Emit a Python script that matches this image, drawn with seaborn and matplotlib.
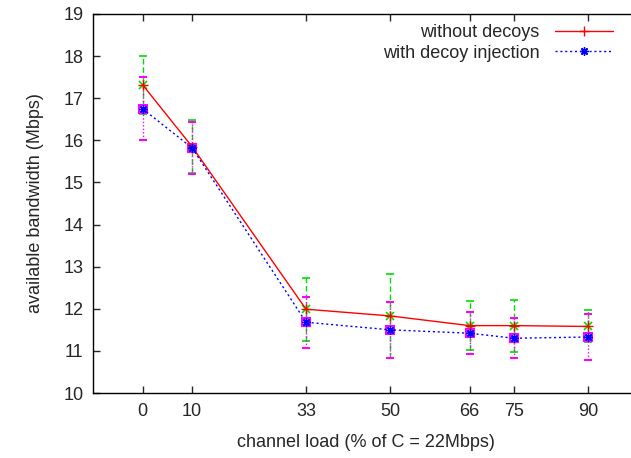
import numpy as np
import matplotlib
matplotlib.use("Agg")
import matplotlib.pyplot as plt
import seaborn as sns
import pandas as pd

# channel load in % of C
loads = [0, 10, 33, 50, 66, 75, 90]

# available bandwidth (Mbps)
without_decoys = [17.32, 15.85, 11.99, 11.83, 11.60, 11.60, 11.58]
without_err = [0.69, 0.63, 0.75, 1.00, 0.58, 0.62, 0.38]

with_decoys = [16.75, 15.82, 11.68, 11.50, 11.42, 11.30, 11.33]
with_err = [0.75, 0.62, 0.60, 0.66, 0.50, 0.48, 0.55]

y_ticks = list(range(10, 20))

sns.set_style("ticks")
plt.rcParams["font.family"] = ["Liberation Sans", "DejaVu Sans"]
FS = 13

df = pd.DataFrame({
    "load": loads * 2,
    "bw": without_decoys + with_decoys,
    "series": ["without decoys"] * len(loads) + ["with decoy injection"] * len(loads)
})

fig = plt.figure(figsize=(6.31, 4.58), dpi=100)
ax = fig.add_axes([93 / 631, 1 - 393 / 458, 545 / 631, 379 / 458])

# error bars first (gnuplot style: green dashed / magenta dotted)
eb1 = ax.errorbar(loads, without_decoys, yerr=without_err, fmt="x", color="#00dd00",
                  ms=6, mew=1.2, elinewidth=1, capsize=3, capthick=1, zorder=2)
eb1[2][0].set_linestyle((0, (4, 2)))
eb2 = ax.errorbar(loads, with_decoys, yerr=with_err, fmt="s", color="#ff00ff",
                  mfc="none", ms=5.5, mew=1.5, elinewidth=1, capsize=3, capthick=1, zorder=2)
eb2[2][0].set_linestyle((0, (1, 1.5)))

sns.lineplot(data=df[df["series"] == "without decoys"], x="load", y="bw", ax=ax,
             color="#ff0000", marker="+", markersize=7, mec="#ff0000", mew=1, linewidth=1,
             label="without decoys", zorder=3)
sns.lineplot(data=df[df["series"] == "with decoy injection"], x="load", y="bw", ax=ax,
             color="#0000ff", marker=(8, 2, 0), markersize=6, mec="#0000ff", mew=1, linewidth=1,
             linestyle=(0, (1.5, 2)), label="with decoy injection", zorder=3)

ax.set_xlim(-10, 100)
ax.set_ylim(10, 19)
ax.set_xticks(loads)
ax.set_yticks(y_ticks)
ax.tick_params(direction="in", top=True, right=True, length=5, width=1, labelsize=FS, pad=7)
for s in ax.spines.values():
    s.set_linewidth(1)
    s.set_color("black")

ax.set_xlabel("channel load (% of C = 22Mbps)", fontsize=FS, labelpad=10)
ax.set_ylabel("available bandwidth (Mbps)", fontsize=FS, labelpad=14)

ax.legend(loc="upper right", bbox_to_anchor=(0.972, 1.0), frameon=False, markerfirst=False,
          fontsize=FS, handlelength=3.2, handletextpad=0.85, labelspacing=0.2, borderaxespad=0.15)

fig.savefig("out.png", dpi=100)
